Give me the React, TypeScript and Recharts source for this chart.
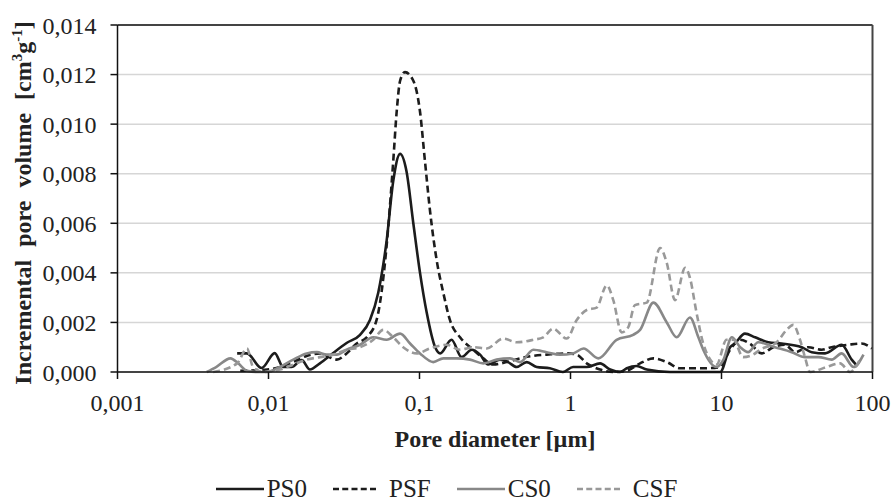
import { LineChart, Line, XAxis, YAxis, CartesianGrid, Legend, ReferenceLine } from "recharts"

// pore diameter [µm], incremental pore volume [cm3/g]
const ps0: [number, number][] = [
  [0.0062, 0.00075], [0.0072, 0.00075], [0.009, 0.00016], [0.011, 0.00076], [0.0125, 0.0002],
  [0.0142, 0.0002], [0.0166, 0.00048], [0.0188, 0.0001], [0.0219, 0.00035], [0.0267, 0.00076],
  [0.0329, 0.00117], [0.0404, 0.0015], [0.047, 0.0021], [0.0533, 0.0032], [0.0606, 0.0053],
  [0.067, 0.0077], [0.0744, 0.0088], [0.082, 0.0081], [0.091, 0.006], [0.1008, 0.004],
  [0.1116, 0.0024], [0.127, 0.001], [0.137, 0.00075], [0.163, 0.0013], [0.19, 0.0006],
  [0.222, 0.0009], [0.252, 0.0007], [0.285, 0.0003], [0.341, 0.0005], [0.386, 0.0004],
  [0.44, 0.0002], [0.513, 0.0004], [0.597, 0.0002], [0.73, 0.00015], [0.89, 0.0],
  [1.04, 0.0002], [1.28, 0.0002], [1.57, 0.00035], [1.83, 0.0001], [2.13, 0.0],
  [2.36, 0.00015], [2.74, 0.00024], [3.2, 0.0001], [4.56, 0.0], [7.2, 0.0],
  [9.8, 0.0], [11.4, 0.001], [12.3, 0.00116], [14.3, 0.00155], [16.7, 0.0014],
  [20.4, 0.0012], [25, 0.00115], [34, 0.001], [39.6, 0.0008], [48.5, 0.00075],
  [62.5, 0.0011], [72.8, 0.0005], [77.8, 0.0003],
]

const psf: [number, number][] = [
  [0.0065, 0.00005], [0.0098, 0.0001], [0.0119, 0.0002], [0.0145, 0.0004], [0.0179, 0.00065],
  [0.0219, 0.00075], [0.0283, 0.0005], [0.0329, 0.00075], [0.0384, 0.00115], [0.0447, 0.0014],
  [0.052, 0.0021], [0.0576, 0.0038], [0.062, 0.0058], [0.067, 0.0085], [0.0706, 0.0105],
  [0.0744, 0.01175], [0.0801, 0.0121], [0.091, 0.01175], [0.1008, 0.0105], [0.1087, 0.0085],
  [0.1174, 0.0065], [0.13, 0.0045], [0.1437, 0.0032], [0.159, 0.0021], [0.1855, 0.0014],
  [0.227, 0.0009], [0.2645, 0.00055], [0.308, 0.0003], [0.378, 0.0004], [0.463, 0.00055],
  [0.567, 0.00065], [0.696, 0.0007], [0.944, 0.00075], [1.1, 0.0007], [1.28, 0.00035],
  [1.57, 0.0001], [1.92, 0.0], [2.36, 0.00005], [2.89, 0.00035], [3.54, 0.00055],
  [4.34, 0.0004], [5.3, 0.00015], [7.57, 0.00015], [9.8, 0.0002], [11.4, 0.0009],
  [13.3, 0.0013], [15.4, 0.00115], [18.5, 0.00075], [22, 0.001], [26.3, 0.0011],
  [30.7, 0.0008], [37.6, 0.001], [46.1, 0.0009], [53.7, 0.001], [69.2, 0.0011],
  [84.5, 0.00115], [99, 0.00095],
]

const cs0: [number, number][] = [
  [0.0039, 0.0], [0.0045, 0.0002], [0.0056, 0.00055], [0.0063, 0.00035], [0.0072, 0.00005],
  [0.0084, 0.0], [0.0097, 0.0], [0.0119, 0.0002], [0.0146, 0.0005], [0.0179, 0.00075],
  [0.0209, 0.0008], [0.0243, 0.0007], [0.0283, 0.0007], [0.0329, 0.0009], [0.0404, 0.0011],
  [0.0494, 0.0014], [0.0606, 0.0013], [0.0744, 0.00155], [0.0866, 0.00115], [0.1008, 0.00075],
  [0.1234, 0.0004], [0.1437, 0.00055], [0.176, 0.00055], [0.216, 0.0005], [0.2645, 0.00035],
  [0.324, 0.0005], [0.398, 0.00055], [0.463, 0.0004], [0.567, 0.0009], [0.696, 0.0008],
  [0.851, 0.0007], [1.04, 0.00075], [1.22, 0.00095], [1.53, 0.00055], [2.02, 0.0013],
  [2.6, 0.0015], [2.89, 0.0017], [3.54, 0.0028], [4.34, 0.002], [5.05, 0.0014],
  [6.18, 0.0022], [7.03, 0.0014], [7.57, 0.0009], [9.28, 0.0002], [10.3, 0.0005],
  [11.7, 0.0014], [13.3, 0.001], [15, 0.0008], [17.5, 0.0012], [22.6, 0.001],
  [29.2, 0.0008], [35.7, 0.0006], [43.8, 0.0006], [53.7, 0.0005], [62.5, 0.00075],
  [75, 0.0002], [87.2, 0.0007],
]

const csf: [number, number][] = [
  [0.0043, 0.0], [0.0062, 0.00035], [0.0072, 0.00095], [0.0079, 0.0002], [0.0092, 0.0],
  [0.0119, 0.0001], [0.0146, 0.0003], [0.0179, 0.0005], [0.0219, 0.0006], [0.0269, 0.0007],
  [0.0329, 0.0009], [0.0404, 0.001], [0.0494, 0.0013], [0.0576, 0.0017], [0.067, 0.0014],
  [0.078, 0.001], [0.096, 0.00075], [0.1174, 0.00095], [0.151, 0.0011], [0.1855, 0.0009],
  [0.227, 0.001], [0.279, 0.00095], [0.359, 0.00135], [0.44, 0.0012], [0.567, 0.0013],
  [0.66, 0.0014], [0.769, 0.00175], [0.944, 0.00135], [1.1, 0.0021], [1.28, 0.0025],
  [1.49, 0.0026], [1.74, 0.0035], [1.92, 0.0029], [2.18, 0.0016], [2.41, 0.0018],
  [2.67, 0.0027], [3.2, 0.0028], [3.92, 0.005], [4.34, 0.0044], [4.92, 0.0029],
  [5.74, 0.0042], [6.18, 0.0038], [6.83, 0.0024], [7.57, 0.00115], [9.28, 0.0003],
  [10.8, 0.0013], [12, 0.0013], [13.9, 0.0006], [16.2, 0.0007], [18, 0.0009],
  [23.2, 0.0012], [27, 0.0017], [29.9, 0.0019], [33.1, 0.0013], [35.7, 0.0006],
  [38.6, 0.0], [49.7, 0.0002], [61, 0.00035], [71, 0.0], [82.5, 0.0005],
]

const xTicks = [0.001, 0.01, 0.1, 1, 10, 100]
const yTicks = [0, 0.002, 0.004, 0.006, 0.008, 0.01, 0.012, 0.014]

const series = [
  { name: "PS0", data: ps0, color: "#1c1c1c", dash: undefined },
  { name: "PSF", data: psf, color: "#1c1c1c", dash: "7 4" },
  { name: "CS0", data: cs0, color: "#888888", dash: undefined },
  { name: "CSF", data: csf, color: "#999999", dash: "7 4" },
]

const FONT = "'Liberation Serif', 'Times New Roman', serif"

const toRows = (pts: [number, number][]) => pts.map(([d, v]) => ({ d, v }))

function YTitle() {
  return (
    <text
      x={31}
      y={203}
      transform="rotate(-90 31 203)"
      textAnchor="middle"
      fontFamily={FONT}
      fontWeight="bold"
      fontSize={24}
      fill="#222"
      style={{ wordSpacing: 7 }}
    >
      Incremental pore volume [cm
      <tspan fontSize={15} dy={-9}>3</tspan>
      <tspan dy={9}>g</tspan>
      <tspan fontSize={15} dy={-9}>-1</tspan>
      <tspan dy={9}>]</tspan>
    </text>
  )
}

function XTitle() {
  return (
    <text x={495} y={446.5} textAnchor="middle" fontFamily={FONT} fontWeight="bold" fontSize={24} fill="#222">
      Pore diameter [µm]
    </text>
  )
}

function LegendBox() {
  return (
    <div
      style={{
        display: "flex",
        justifyContent: "center",
        alignItems: "center",
        fontFamily: FONT,
        fontSize: 25,
        lineHeight: "18px",
        height: 18,
        color: "#222",
      }}
    >
      {series.map((s, i) => (
        <div key={s.name} style={{ display: "flex", alignItems: "center", marginLeft: i === 0 ? 0 : 26 }}>
          <svg width={s.dash ? 56 : 51} height={10}>
            <line
              x1={0}
              y1={5}
              x2={s.dash ? 44 : 48}
              y2={5}
              stroke={s.color}
              strokeWidth={2.5}
              strokeDasharray={s.dash ? "6 3.25" : undefined}
            />
          </svg>
          <span>{s.name}</span>
        </div>
      ))}
    </div>
  )
}

export default function App() {
  return (
    <div style={{ position: "absolute", left: 0, top: 0, background: "#fff" }}>
      <LineChart width={893} height={503} margin={{ top: 25, right: 20.5, bottom: 91, left: 0 }}>
        <CartesianGrid vertical={false} stroke="#d6d6d6" strokeWidth={1.5} />
        <XAxis
          type="number"
          dataKey="d"
          scale="log"
          domain={[0.001, 100]}
          ticks={xTicks}
          allowDataOverflow
          height={40}
          tickSize={7}
          tickMargin={15}
          stroke="#111"
          strokeWidth={1.5}
          tick={{ fontFamily: FONT, fontSize: 24, fill: "#222" }}
          tickFormatter={(v: number) => String(v).replace(".", ",")}
          label={<XTitle />}
        />
        <YAxis
          type="number"
          domain={[0, 0.014]}
          ticks={yTicks}
          width={117.5}
          tickSize={7}
          tickMargin={14}
          stroke="#111"
          strokeWidth={1.5}
          tick={{ fontFamily: FONT, fontSize: 24, fill: "#222" }}
          tickFormatter={(v: number) => v.toFixed(3).replace(".", ",")}
          label={<YTitle />}
        />
        <ReferenceLine y={0.014} stroke="#444" strokeWidth={2} />
        <ReferenceLine x={100} stroke="#444" strokeWidth={2} />
        {series.map((s) => (
          <Line
            key={s.name}
            data={toRows(s.data)}
            dataKey="v"
            name={s.name}
            type="monotone"
            stroke={s.color}
            strokeWidth={2.6}
            strokeDasharray={s.dash}
            dot={false}
            activeDot={false}
            isAnimationActive={false}
          />
        ))}
        <Legend
          verticalAlign="middle"
          align="center"
          layout="horizontal"
          wrapperStyle={{ top: 480, left: 0, width: 893, height: 18 }}
          content={<LegendBox />}
        />
      </LineChart>
    </div>
  )
}
